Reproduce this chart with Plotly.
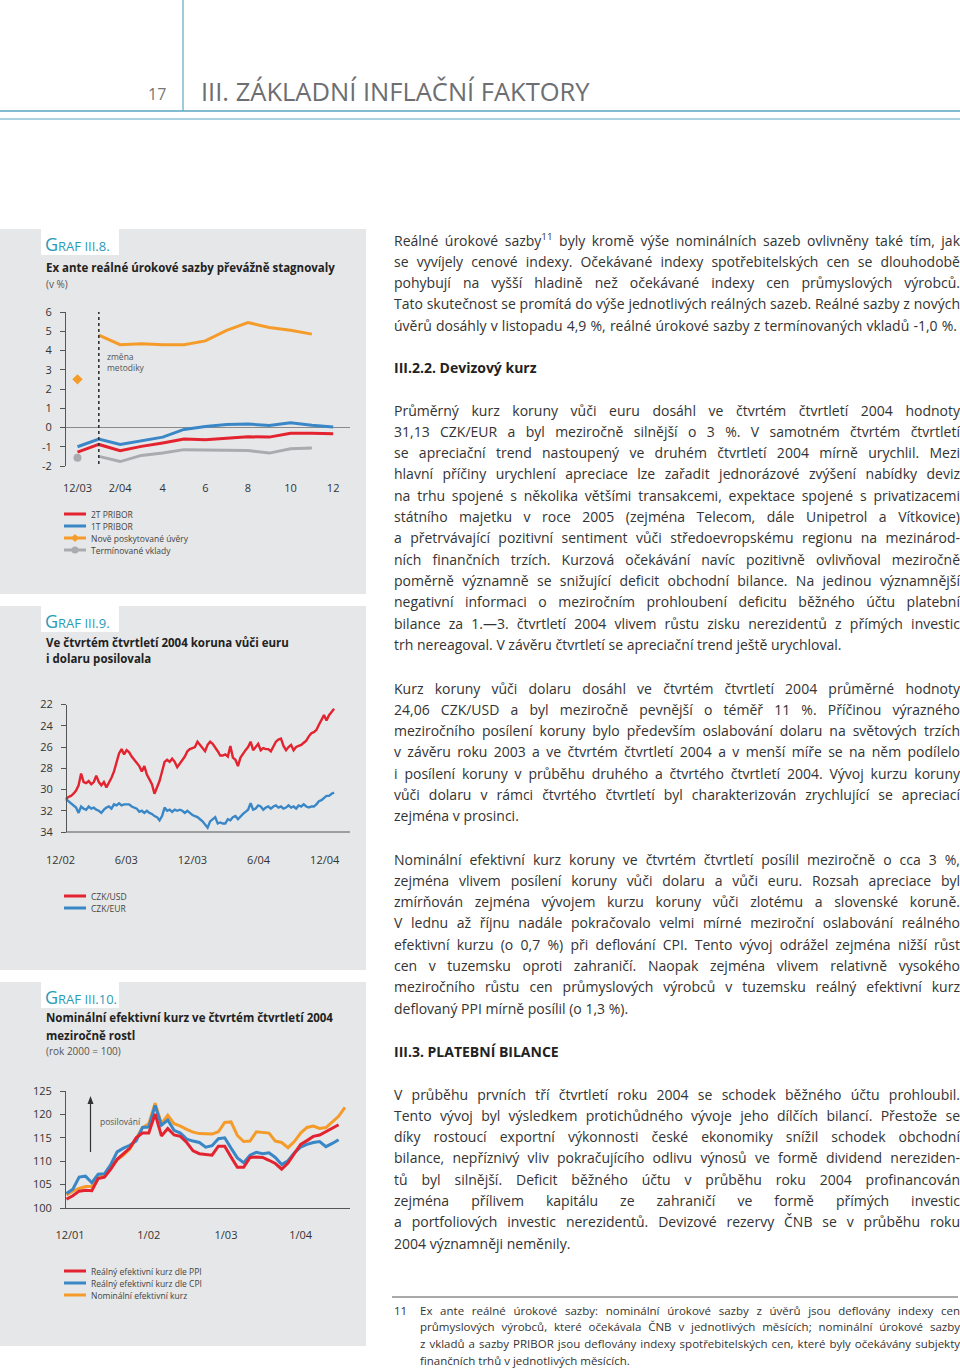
import plotly.graph_objects as go
import pandas as pd

W, H = 960, 1368
FONT = "Open Sans"
RED, BLUE, ORANGE, GREY = "#e3232f", "#3a87c8", "#f59b2a", "#a9abae"
TEAL = "#2a9bb8"
TXT = "#333333"

# ---------------- GRAF III.8 data (v %) ----------------
months8 = list(range(13))                     # 12/03 ... 12/04
month_ticks8 = ["12/03", "2/04", "4", "6", "8", "10", "12"]
pribor_2t = [-1.28, -0.88, -1.2, -0.98, -0.8, -0.6, -0.64, -0.55, -0.48, -0.5, -0.3, -0.3, -0.32]
pribor_1t = [-1.0, -0.6, -0.88, -0.7, -0.5, -0.1, 0.05, 0.15, 0.18, 0.1, 0.25, 0.12, 0.03]
uvery_old = [2.5]                              # 12/03, old methodology
uvery_new = [4.8, 4.3, 4.35, 4.3, 4.3, 4.5, 5.05, 5.45, 5.2, 5.05, 4.85]   # 1/04 ... 11/04
vklady_old = [-1.57]
vklady_new = [-1.5, -1.77, -1.45, -1.33, -1.15, -1.18, -1.2, -1.2, -1.33, -1.1, -1.07]

# ---------------- GRAF III.9 data (weekly) ----------------
czk_usd = [30.9, 30.7, 30.6, 30.4, 30.1, 29.6, 28.5, 29.3, 29.4, 29.2,
           29.5, 29.3, 28.7, 29.3, 29.6, 29.3, 29.8, 29.4, 28.9, 28.3,
           27.3, 26.6, 26.2, 26.7, 26.3, 26.5, 26.9, 27.2, 27.5, 27.8,
           28.3, 27.8, 28.6, 29.0, 29.5, 30.4, 29.8, 29.2, 28.3, 27.4,
           27.2, 27.4, 27.1, 27.4, 27.9, 27.6, 27.3, 26.9, 26.4, 26.2,
           26.1, 26.0, 25.5, 25.8, 26.0, 26.4, 25.8, 25.5, 25.7, 26.0,
           26.4, 26.8, 26.8, 26.7, 26.9, 25.9, 27.0, 27.2, 27.8, 27.0,
           26.6, 26.3, 26.0, 25.5, 26.3, 26.0, 25.7, 26.3, 26.1, 26.2,
           26.2, 26.4, 25.9, 25.5, 25.3, 25.2, 25.9, 26.3, 26.0, 25.8,
           26.3, 26.0, 25.9, 25.8, 25.6, 25.4, 25.0, 24.7, 24.6, 24.4,
           23.9, 23.4, 23.0, 23.5, 23.0, 22.7, 22.4]
czk_eur = [30.9, 31.1, 31.3, 31.5, 31.7, 32.2, 31.6, 31.8, 31.9, 31.6,
           31.8, 31.7, 31.9, 32.0, 32.2, 31.9, 31.7, 31.6, 31.8, 31.4,
           31.5, 31.3, 31.5, 31.4, 31.4, 31.4, 31.6, 31.7, 31.8, 32.1,
           32.0, 32.2, 32.0, 32.2, 32.3, 32.5, 32.6, 32.9, 32.5, 31.7,
           32.0, 31.9, 32.1, 31.9, 32.0, 31.9, 32.0, 32.2, 32.0, 32.2,
           32.4, 32.5, 32.6, 32.8, 33.0, 33.3, 33.6, 33.0, 32.8, 32.6,
           33.2, 33.1, 33.2, 33.2, 32.8, 32.9, 32.6, 32.5, 32.8, 32.5,
           32.3, 32.1, 31.9, 31.3, 31.9, 31.8, 31.5, 31.6, 31.9, 31.7,
           31.6, 31.8, 31.6, 31.5, 31.7, 31.6, 31.8, 31.7, 31.5, 31.7,
           31.6, 31.8, 31.5, 31.6, 31.4, 31.6, 31.7, 31.6, 31.6, 31.4,
           31.1, 31.0, 30.8, 30.6, 30.6, 30.4, 30.3]
weeks9 = pd.date_range("2002-12-16", periods=len(czk_usd), freq="7D")
tick_dates9 = ["2002-12-01", "2003-06-01", "2003-12-01", "2004-06-01", "2004-12-01"]
tick_text9 = ["12/02", "6/03", "12/03", "6/04", "12/04"]
y_ticks9 = [22, 24, 26, 28, 30, 32, 34]

# ---------------- GRAF III.10 data (monthly, rok 2000 = 100) ----------------
reer_ppi = [101.9, 102.6, 103.6, 103.8, 103.7, 106.3, 106.6, 108.3, 110.4, 111.6,
            112.8, 115.0, 116.0, 116.0, 120.1, 115.4, 117.0, 115.6, 115.3, 114.0,
            112.2, 111.6, 111.4, 111.3, 113.2, 113.2, 110.9, 108.7, 108.7, 110.8,
            110.9, 110.8, 110.2, 109.5, 108.3, 109.6, 111.6, 113.6, 114.4, 115.3,
            115.6, 116.3, 117.0, 117.8]
reer_cpi = [103.1, 104.0, 106.6, 106.8, 105.4, 107.2, 107.3, 109.3, 112.0, 112.8,
            113.4, 114.3, 117.2, 117.3, 121.9, 117.7, 118.8, 116.6, 116.0, 114.7,
            114.3, 114.0, 113.0, 113.3, 114.8, 115.0, 112.8, 110.7, 109.7, 111.3,
            111.9, 111.6, 111.8, 110.8, 109.3, 110.1, 111.8, 113.0, 113.6, 114.0,
            114.2, 113.1, 113.8, 114.6]
neer = [102.8, 103.6, 104.2, 104.6, 104.6, 106.6, 106.8, 108.5, 110.3, 111.3,
        112.6, 114.8, 117.2, 118.0, 122.4, 118.0, 119.8, 118.0, 117.5, 116.8,
        116.2, 115.9, 115.8, 115.8, 116.3, 118.3, 118.4, 115.5, 114.2, 114.3,
        116.3, 116.2, 116.0, 114.3, 114.0, 112.9, 114.2, 116.0, 117.2, 117.5,
        117.0, 117.2, 118.5, 119.6, 121.5]
months10 = list(range(len(neer)))
tick_text10 = ["12/01", "1/02", "1/03", "1/04"]

# ---------------- figure ----------------
fig = go.Figure()
def line(x, y, color, name, ax, w=3, mode="lines", marker=None):
    fig.add_trace(go.Scatter(x=x, y=y, mode=mode, name=name, line=dict(color=color, width=w),
                             marker=marker, xaxis="x" + ax, yaxis="y" + ax, hoverinfo="skip"))

line(months8[1:12], vklady_new, GREY, "Termínované vklady", "")
line(months8[:1], vklady_old, GREY, "Termínované vklady", "", mode="markers", marker=dict(size=8, color=GREY))
line(months8[1:12], uvery_new, ORANGE, "Nově poskytované úvěry", "")
line(months8[:1], uvery_old, ORANGE, "Nově poskytované úvěry", "", mode="markers",
     marker=dict(size=8, color=ORANGE, symbol="diamond"))
line(months8, pribor_1t, BLUE, "1T PRIBOR", "")
line(months8, pribor_2t, RED, "2T PRIBOR", "")

line(weeks9, czk_eur, BLUE, "CZK/EUR", "2", w=2.4)
line(weeks9, czk_usd, RED, "CZK/USD", "2", w=2.4)

line(months10, neer, ORANGE, "Nominální efektivní kurz", "3")
line(months10[:len(reer_cpi)], reer_cpi, BLUE, "Reálný efektivní kurz dle CPI", "3")
line(months10[:len(reer_ppi)], reer_ppi, RED, "Reálný efektivní kurz dle PPI", "3")

def X(p): return p / W
def Y(p): return 1 - p / H

tickfont = dict(family=FONT, size=11, color=TXT)
ax_common = dict(showgrid=False, tickfont=tickfont, fixedrange=True, automargin=False)
yax_common = dict(showgrid=False, tickfont=tickfont, showline=True, linecolor="#555", linewidth=1,
                  ticks="outside", ticklen=5, tickcolor="#555", ticklabelstandoff=6, zeroline=False,
                  automargin=False, fixedrange=True)

fig.update_layout(
    width=W, height=H, autosize=False,
    margin=dict(l=0, r=0, t=0, b=0, pad=0, autoexpand=False),
    paper_bgcolor="white", plot_bgcolor="rgba(0,0,0,0)", showlegend=False,
    font=dict(family=FONT, color=TXT),
    xaxis=dict(domain=[X(66), X(350)], range=[-0.54, 12.79], tickvals=[0, 2, 4, 6, 8, 10, 12],
               ticktext=month_ticks8, showline=False, zeroline=False, ticks="", ticklabelstandoff=14,
               anchor="y", **ax_common),
    yaxis=dict(domain=[Y(466), Y(312)], range=[-2, 6], tickvals=list(range(-2, 7)),
               ticktext=["-2", "-1", "0", "1", "2", "3", "4", "5", "6"], anchor="x",
               **{**yax_common, "zeroline": True, "zerolinecolor": "#8a8a8a", "zerolinewidth": 1}),
    xaxis2=dict(domain=[X(54), X(350)], type="date", range=["2002-11-13", "2005-02-09"],
                tickvals=tick_dates9, ticktext=tick_text9, showline=False, zeroline=False, ticks="",
                ticklabelstandoff=20, anchor="y2", **ax_common),
    yaxis2=dict(domain=[Y(832), Y(704.5)], range=[34, 22], tickvals=y_ticks9,
                anchor="free", position=X(66), **yax_common),
    xaxis3=dict(domain=[X(66), X(350)], range=[-0.08, 44.8], tickvals=[0.55, 13, 25.2, 37],
                ticktext=tick_text10, showline=True, linecolor="#555", linewidth=1, zeroline=False,
                ticks="", ticklabelstandoff=17, anchor="y3", **ax_common),
    yaxis3=dict(domain=[Y(1208), Y(1091)], range=[100, 125], tickvals=[100, 105, 110, 115, 120, 125],
                anchor="x3", **yax_common),
)

shapes = []
def rect(x0, y0, x1, y1, fill, layer="below"):
    shapes.append(dict(type="rect", xref="paper", yref="paper", x0=X(x0), x1=X(x1), y0=Y(y1), y1=Y(y0),
                       fillcolor=fill, line=dict(width=0), layer=layer))
def seg(x0, y0, x1, y1, color, w=1, dash=None):
    shapes.append(dict(type="line", xref="paper", yref="paper", x0=X(x0), x1=X(x1), y0=Y(y0), y1=Y(y1),
                       line=dict(color=color, width=w, dash=dash)))
def tri(pts, color):
    path = "M " + " L ".join(f"{X(a)} {Y(b)}" for a, b in pts) + " Z"
    shapes.append(dict(type="path", xref="paper", yref="paper", path=path,
                       fillcolor=color, line=dict(width=0)))

# header
seg(183, 0, 183, 111, "#3f97b6", 1)
seg(0, 111, 960, 111, "#5aa6c2", 1.6)
seg(0, 119, 960, 119, "#8cc4d8", 1.6)

# panels
for (t, b) in [(229, 594), (606, 970), (982, 1346)]:
    rect(0, t, 366, b, "#e6e7e8")
    rect(41, t, 119, t + 26, "#ffffff")

# chart 2 bottom axis line
seg(66, 832, 350, 832, "#555", 1)
# footnote rule
seg(392, 1297, 958, 1297, "#555", 1)

# method-change dotted line (chart 1)
shapes.append(dict(type="line", xref="x", yref="y", x0=1, x1=1, y0=-1.9, y1=6.05,
                   line=dict(color="#333", width=1.6, dash="dot")))

# "posilování" arrow (chart 3)
seg(90.5, 1152, 90.5, 1102, "#333", 1.2)
tri([(90.5, 1096), (93.5, 1104), (87.5, 1104)], "#333")

# manual legends
def leg_line(y, color, marker=None):
    seg(64, y, 86, y, color, 3)
    if marker == "diamond":
        tri([(75, y - 4), (79, y), (75, y + 4), (71, y)], color)
    elif marker == "circle":
        shapes.append(dict(type="circle", xref="paper", yref="paper", x0=X(71.5), x1=X(78.5),
                           y0=Y(y + 3.5), y1=Y(y - 3.5), fillcolor=color, line=dict(width=0)))

anns = []
def txt(x, y, s, size=14, color=TXT, xanchor="left", family=FONT, name=None, yanchor="middle"):
    a = dict(x=X(x), y=Y(y), xref="paper", yref="paper", text=s, showarrow=False,
             xanchor=xanchor, yanchor=yanchor, align="left",
             font=dict(family=family, size=size, color=color))
    if name:
        a["name"] = name
    anns.append(a)

legend8 = [("2T PRIBOR", RED, None), ("1T PRIBOR", BLUE, None),
           ("Nově poskytované úvěry", ORANGE, "diamond"), ("Termínované vklady", GREY, "circle")]
for k, (lab, c, m) in enumerate(legend8):
    leg_line(514 + 12 * k, c, m)
    txt(89, 514 + 12 * k, lab, size=8.5, color="#444")
legend9 = [("CZK/USD", RED), ("CZK/EUR", BLUE)]
for k, (lab, c) in enumerate(legend9):
    leg_line(896 + 12 * k, c)
    txt(89, 896 + 12 * k, lab, size=8.5, color="#444")
legend10 = [("Reálný efektivní kurz dle PPI", RED), ("Reálný efektivní kurz dle CPI", BLUE),
            ("Nominální efektivní kurz", ORANGE)]
for k, (lab, c) in enumerate(legend10):
    leg_line(1271 + 12 * k, c)
    txt(89, 1271 + 12 * k, lab, size=8.5, color="#444")

# panel headings
def graf(y, num):
    txt(43, y, f"G<span style='font-size:13px'>RAF III.{num}.</span>", size=18, color=TEAL)
graf(244, 8)
graf(621, 9)
graf(997, 10)
txt(44, 267, "<b>Ex ante reálné úrokové sazby převážně stagnovaly</b>", size=11.5, color="#222")
txt(44, 284, "(v %)", size=10, color="#555")
txt(44, 642, "<b>Ve čtvrtém čtvrtletí 2004 koruna vůči euru</b>", size=11.5, color="#222")
txt(44, 658, "<b>i dolaru posilovala</b>", size=11.5, color="#222")
txt(44, 1018, "<b>Nominální efektivní kurz ve čtvrtém čtvrtletí 2004</b>", size=11.5, color="#222")
txt(44, 1035, "<b>meziročně rostl</b>", size=11.5, color="#222")
txt(44, 1051, "(rok 2000 = 100)", size=10, color="#555")

txt(105, 362, "změna<br>metodiky", size=8.5, color="#555")
txt(98, 1121, "posilování", size=8.5, color="#555")

# page header
txt(168, 94, "17", size=16, color="#777", xanchor="right")
txt(199, 91, "III. ZÁKLADNÍ INFLAČNÍ FAKTORY", size=25.5, color="#6d6e71")

# body text
LH = 21.33
paras = [
    (240, [
        "Reálné úrokové sazby<sup>11</sup> byly kromě výše nominálních sazeb ovlivněny také tím, jak",
        "se vyvíjely cenové indexy. Očekávané indexy spotřebitelských cen se dlouhodobě",
        "pohybují na vyšší hladině než očekávané indexy cen průmyslových výrobců.",
        "Tato skutečnost se promítá do výše jednotlivých reálných sazeb. Reálné sazby z nových",
        "úvěrů dosáhly v listopadu 4,9 %, reálné úrokové sazby z termínovaných vkladů -1,0 %.",
    ], True),
    (410, [
        "Průměrný kurz koruny vůči euru dosáhl ve čtvrtém čtvrtletí 2004 hodnoty",
        "31,13 CZK/EUR a byl meziročně silnější o 3 %. V samotném čtvrtém čtvrtletí",
        "se apreciační trend nastoupený ve druhém čtvrtletí 2004 mírně urychlil. Mezi",
        "hlavní příčiny urychlení apreciace lze zařadit jednorázové zvýšení nabídky deviz",
        "na trhu spojené s několika většími transakcemi, expektace spojené s privatizacemi",
        "státního majetku v roce 2005 (zejména Telecom, dále Unipetrol a Vítkovice)",
        "a přetrvávající pozitivní sentiment vůči středoevropskému regionu na mezinárod-",
        "ních finančních trzích. Kurzová očekávání navíc pozitivně ovlivňoval meziročně",
        "poměrně významně se snižující deficit obchodní bilance. Na jedinou významnější",
        "negativní informaci o meziročním prohloubení deficitu běžného účtu platební",
        "bilance za 1.—3. čtvrtletí 2004 vlivem růstu zisku nerezidentů z přímých investic",
        "trh nereagoval. V závěru čtvrtletí se apreciační trend ještě urychloval.",
    ], False),
    (688, [
        "Kurz koruny vůči dolaru dosáhl ve čtvrtém čtvrtletí 2004 průměrné hodnoty",
        "24,06 CZK/USD a byl meziročně pevnější o téměř 11 %. Příčinou výrazného",
        "meziročního posílení koruny bylo především oslabování dolaru na světových trzích",
        "v závěru roku 2003 a ve čtvrtém čtvrtletí 2004 a v menší míře se na něm podílelo",
        "i posílení koruny v průběhu druhého a čtvrtého čtvrtletí 2004. Vývoj kurzu koruny",
        "vůči dolaru v rámci čtvrtého čtvrtletí byl charakterizován zrychlující se apreciací",
        "zejména v prosinci.",
    ], False),
    (859, [
        "Nominální efektivní kurz koruny ve čtvrtém čtvrtletí posílil meziročně o cca 3 %,",
        "zejména vlivem posílení koruny vůči dolaru a vůči euru. Rozsah apreciace byl",
        "zmírňován zejména vývojem kurzu koruny vůči zlotému a slovenské koruně.",
        "V lednu až říjnu nadále pokračovalo velmi mírné meziroční oslabování reálného",
        "efektivní kurzu (o 0,7 %) při deflování CPI. Tento vývoj odrážel zejména nižší růst",
        "cen v tuzemsku oproti zahraničí. Naopak zejména vlivem relativně vysokého",
        "meziročního růstu cen průmyslových výrobců v tuzemsku reálný efektivní kurz",
        "deflovaný PPI mírně posílil (o 1,3 %).",
    ], False),
    (1094, [
        "V průběhu prvních tří čtvrtletí roku 2004 se schodek běžného účtu prohloubil.",
        "Tento vývoj byl výsledkem protichůdného vývoje jeho dílčích bilancí. Přestože se",
        "díky rostoucí exportní výkonnosti české ekonomiky snížil schodek obchodní",
        "bilance, nepříznivý vliv pokračujícího odlivu výnosů ve formě dividend nereziden-",
        "tů byl silnější. Deficit běžného účtu v průběhu roku 2004 profinancován",
        "zejména přílivem kapitálu ze zahraničí ve formě přímých investic",
        "a portfoliových investic nerezidentů. Devizové rezervy ČNB se v průběhu roku",
        "2004 významněji neměnily.",
    ], False),
]
for y0, lines, last_just in paras:
    for k, s in enumerate(lines):
        just = (k < len(lines) - 1) or last_just
        target = 563 if (last_just and k == len(lines) - 1) else 566
        txt(392, y0 + k * LH, s, size=14, color=TXT, name=(f"just:{target}" if just else None))

txt(392, 367, "<b>III.2.2. Devizový kurz</b>", size=14, color="#222")
txt(392, 1051, "<b>III.3. PLATEBNÍ BILANCE</b>", size=14, color="#222")

foot = [
    "Ex ante reálné úrokové sazby: nominální úrokové sazby z úvěrů jsou deflovány indexy cen",
    "průmyslových výrobců, které očekávala ČNB v jednotlivých měsících; nominální úrokové sazby",
    "z vkladů a sazby PRIBOR jsou deflovány indexy spotřebitelských cen, které byly očekávány subjekty",
    "finančních trhů v jednotlivých měsících.",
]
txt(392, 1310, "11", size=11.5, color=TXT)
for k, s in enumerate(foot):
    txt(418, 1310 + k * 16.7, s, size=11.5, color=TXT, name=("just:540" if k < 3 else None))

fig.update_layout(shapes=shapes, annotations=anns)

js = """
document.documentElement.style.margin = '0';
document.documentElement.style.padding = '0';
document.body.style.margin = '0';
document.body.style.padding = '0';
document.body.style.overflow = 'hidden';
var gd = document.getElementById('{plot_id}');
function justifyLines(){
  var anns = (gd.layout && gd.layout.annotations) || [];
  gd.querySelectorAll('g.annotation').forEach(function(g){
    var i = parseInt(g.getAttribute('data-index'));
    var a = anns[i];
    if(!a || !a.name || a.name.indexOf('just:') !== 0) return;
    var target = parseFloat(a.name.slice(5));
    var t = g.querySelector('text.annotation-text');
    if(!t) return;
    t.style.wordSpacing = '0px';
    var w = t.getComputedTextLength();
    var n = (t.textContent.match(/ /g) || []).length;
    if(n > 0){ t.style.wordSpacing = ((target - w) / n) + 'px'; }
  });
}
justifyLines();
"""
fig.write_html("out.html", post_script=js, config={"displayModeBar": False, "staticPlot": True})
